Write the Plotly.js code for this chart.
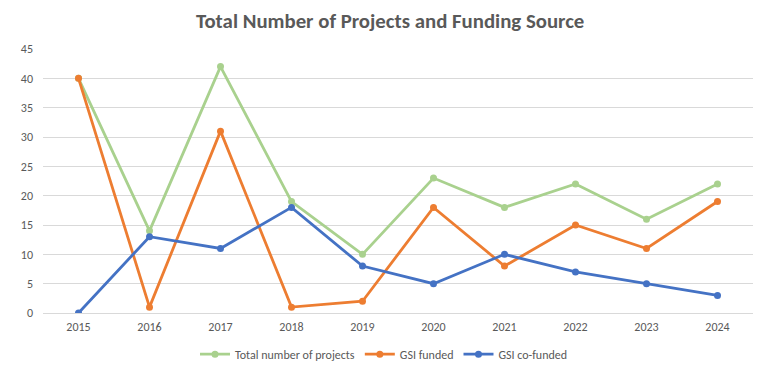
<!DOCTYPE html>
<html>
<head>
<meta charset="utf-8">
<script src="https://cdn.plot.ly/plotly-3.0.1.min.js"></script>
<style>html,body{margin:0;padding:0;background:#fff;}#chart{width:768px;height:376px;}</style>
</head>
<body>
<div id="chart"></div>
<script>
const years = ["2015","2016","2017","2018","2019","2020","2021","2022","2023","2024"];
const totalProjects = [40, 14, 42, 19, 10, 23, 18, 22, 16, 22];
const gsiFunded = [40, 1, 31, 1, 2, 18, 8, 15, 11, 19];
const gsiCoFunded = [0, 13, 11, 18, 8, 5, 10, 7, 5, 3];
const seriesNames = ["Total number of projects", "GSI funded", "GSI co-funded"];
const seriesColors = ["#A9D18E", "#ED7D31", "#4472C4"];

const allSeries = [totalProjects, gsiFunded, gsiCoFunded];
const traces = allSeries.map((vals, i) => ({
  x: years, y: vals, name: seriesNames[i], type: "scatter", mode: "lines+markers",
  line: {color: seriesColors[i], width: 2.8},
  marker: {color: seriesColors[i], size: 7}
}));

const font = "Calibri, Carlito, 'Open Sans', sans-serif";
const layout = {
  width: 768, height: 376,
  margin: {l: 43, r: 15, t: 49, b: 63},
  paper_bgcolor: "#fff", plot_bgcolor: "#fff",
  title: {text: "<b>Total Number of Projects and Funding Source</b>", x: 0.508, xanchor: "center", y: 0.945, yanchor: "middle",
          font: {family: font, size: 20.8, color: "#595959"}},
  xaxis: {type: "category", range: [-0.5, 9.5], showgrid: false, zeroline: false, showline: false,
          ticks: "", ticklabelstandoff: 5, tickfont: {family: font, size: 12, color: "#595959"}, fixedrange: true},
  yaxis: {range: [0, 45], dtick: 5, tick0: 0, showgrid: true, gridcolor: "#D9D9D9", gridwidth: 1,
          zeroline: true, zerolinecolor: "#D9D9D9", zerolinewidth: 1, showline: false, ticks: "",
          ticklabelstandoff: 9,
          tickfont: {family: font, size: 12, color: "#595959"}, fixedrange: true},
  showlegend: true,
  legend: {orientation: "h", x: 0.5, xanchor: "center", xref: "container", yref: "container", y: 0.058, yanchor: "middle",
           font: {family: font, size: 12, color: "#595959"}, itemwidth: 30, tracegroupgap: 0}
};
Plotly.newPlot("chart", traces, layout, {displayModeBar: false, staticPlot: true});
</script>
</body>
</html>
